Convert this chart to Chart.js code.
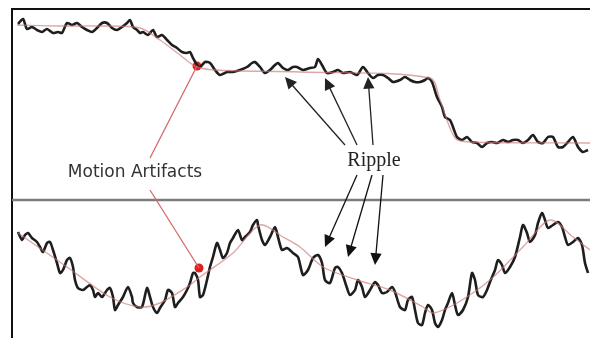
<!DOCTYPE html>
<html>
<head>
<meta charset="utf-8">
<script src="https://cdn.jsdelivr.net/npm/chart.js@4"></script>
<style>
  html, body { margin: 0; padding: 0; background: #fff; }
  #wrap { position: relative; width: 590px; height: 338px; }
</style>
</head>
<body>
<div id="wrap"><canvas id="sig" width="590" height="338"></canvas></div>
<script>
// upper trace: raw signal with two level drops
const topX = [18,23,27,32,37,42,47,53,58,62,67,72,77,82,87,92,97,102,107,112,117,122,127,130,133,137,140,143,148,153,157,162,167,172,177,182,187,190,193,197,200,205,210,215,220,227,233,240,247,252,255,260,265,270,275,278,283,288,293,297,303,310,315,318,322,327,333,338,343,350,357,363,368,373,378,383,388,393,400,405,410,415,420,425,428,432,437,442,445,450,453,457,462,467,472,477,482,487,492,497,503,508,513,518,523,528,533,538,543,548,553,558,563,568,573,578,583,588];
const topY = [24,19,29,27,30,32,29,33,32,33,23,25,23,27,30,32,28,23,23,28,30,27,23,20,27,30,33,32,35,30,37,35,40,45,48,52,53,52,58,65,67,62,63,70,75,72,72,70,67,63,62,67,73,70,65,63,68,70,67,67,70,68,67,59,65,73,72,70,73,72,75,67,73,78,75,75,78,82,80,77,80,82,82,80,78,82,97,107,117,120,127,137,140,137,142,143,147,143,142,143,140,142,140,140,143,140,135,142,143,137,137,147,147,142,137,147,152,150];
// upper trend
const topTrendX = [17,60,100,140,160,180,195,215,300,430,440,455,470,590];
const topTrendY = [25,26,26,28,40,55,66,70,72,78,100,138,142,143];

// lower trace: raw signal riding on a slow wave
const botX = [18,22,25,28,32,37,40,43,47,50,53,57,60,63,67,70,73,75,78,83,87,90,93,95,98,102,107,110,113,115,118,123,128,132,133,137,142,147,150,153,157,160,165,168,172,175,178,183,187,190,193,195,198,200,203,207,210,213,217,220,223,227,230,233,238,242,245,250,253,257,258,262,265,270,275,278,282,287,293,298,303,308,313,318,322,325,330,335,338,342,347,350,355,358,362,365,370,375,378,382,387,392,395,400,405,408,412,415,418,422,425,428,432,435,438,442,445,448,452,455,458,463,468,472,475,478,483,487,490,495,498,502,505,510,515,520,523,527,530,535,538,542,545,548,553,558,562,565,568,573,578,582,585,588];
const botY = [232,240,235,233,238,242,247,252,243,242,250,263,273,270,260,258,267,280,288,290,287,285,290,297,293,297,290,288,297,310,305,297,287,297,303,307,307,288,297,307,313,308,300,290,293,307,303,297,290,283,273,273,280,297,295,280,267,257,243,250,258,253,243,238,230,240,237,232,225,220,225,240,245,237,227,237,250,248,253,257,275,270,258,255,263,280,283,268,267,273,288,295,290,280,287,297,290,282,285,293,292,287,292,307,310,300,297,310,323,325,313,305,310,323,327,320,310,303,293,305,315,310,297,273,280,295,297,290,282,270,260,265,273,267,257,237,225,233,242,235,223,213,220,228,225,222,227,237,245,242,238,245,263,273];
// lower trend
const botTrendX = [18,67,110,140,160,187,200,233,260,283,300,323,357,390,423,433,457,490,523,550,573,590];
const botTrendY = [233,267,297,307,303,287,277,253,225,237,247,267,280,290,307,313,303,280,247,220,237,250];

// annotation anchors
const redDotX = [197, 199];
const redDotY = [66, 268];
const ripplesUpX = [285, 325, 368];
const ripplesUpY = [77, 78, 77];
const ripplesDownX = [325, 348, 375];
const ripplesDownY = [247, 257, 265];

const zip = (xs, ys) => xs.map((x, i) => ({x: x, y: ys[i]}));

function arrow(ctx, x0, y0, x1, y1, color, head) {
    const a = Math.atan2(y1 - y0, x1 - x0);
    ctx.strokeStyle = color;
    ctx.fillStyle = color;
    ctx.beginPath();
    ctx.moveTo(x0, y0);
    ctx.lineTo(x1 - Math.cos(a) * head * 0.8, y1 - Math.sin(a) * head * 0.8);
    ctx.stroke();
    if (!head) return;
    ctx.beginPath();
    ctx.moveTo(x1, y1);
    ctx.lineTo(x1 - head * Math.cos(a - 0.45), y1 - head * Math.sin(a - 0.45));
    ctx.lineTo(x1 - head * Math.cos(a + 0.45), y1 - head * Math.sin(a + 0.45));
    ctx.closePath();
    ctx.fill();
}

const frame = {
    id: 'frame',
    beforeDatasetsDraw(chart) {
        const {ctx, scales: {x, y}} = chart;
        ctx.save();
        // outer frame: left and top edges
        ctx.strokeStyle = '#111';
        ctx.lineWidth = 2;
        ctx.beginPath();
        ctx.moveTo(x.getPixelForValue(12), y.getPixelForValue(338));
        ctx.lineTo(x.getPixelForValue(12), y.getPixelForValue(9));
        ctx.lineTo(x.getPixelForValue(590), y.getPixelForValue(9));
        ctx.stroke();
        // panel divider
        ctx.strokeStyle = '#7c7c7c';
        ctx.lineWidth = 2.5;
        ctx.beginPath();
        ctx.moveTo(x.getPixelForValue(12), y.getPixelForValue(200));
        ctx.lineTo(x.getPixelForValue(590), y.getPixelForValue(200));
        ctx.stroke();
        ctx.restore();
    },
    afterDatasetsDraw(chart) {
        const {ctx, scales: {x, y}} = chart;
        ctx.save();
        ctx.lineWidth = 1.3;
        // motion artifacts
        arrow(ctx, x.getPixelForValue(150), y.getPixelForValue(158), x.getPixelForValue(redDotX[0]), y.getPixelForValue(redDotY[0]), '#d46a6a', 0);
        arrow(ctx, x.getPixelForValue(150), y.getPixelForValue(190), x.getPixelForValue(redDotX[1]), y.getPixelForValue(redDotY[1]), '#d46a6a', 0);
        ctx.fillStyle = '#333';
        ctx.font = '17px "DejaVu Sans"';
        ctx.textAlign = 'center';
        ctx.textBaseline = 'middle';
        ctx.fillText('Motion Artifacts', x.getPixelForValue(135), y.getPixelForValue(173));
        // ripple
        ctx.lineWidth = 1.3;
        const upTails = [345, 357, 373];
        const downTails = [357, 372, 383];
        ripplesUpX.forEach((px, i) => arrow(ctx, x.getPixelForValue(upTails[i]), y.getPixelForValue(145), x.getPixelForValue(px), y.getPixelForValue(ripplesUpY[i]), '#222', 13));
        ripplesDownX.forEach((px, i) => arrow(ctx, x.getPixelForValue(downTails[i]), y.getPixelForValue(175), x.getPixelForValue(px), y.getPixelForValue(ripplesDownY[i]), '#111', 13));
        ctx.fillStyle = '#222';
        ctx.font = '20px "Liberation Serif"';
        ctx.fillText('Ripple', x.getPixelForValue(374), y.getPixelForValue(161));
        ctx.restore();
    }
};

const trend = {borderColor: 'rgba(200,120,120,0.65)', borderWidth: 1.4, pointRadius: 0, tension: 0.3, fill: false};
const raw = {borderColor: '#1e1e1e', borderWidth: 2.6, pointRadius: 0, tension: 0.25, fill: false};

new Chart(document.getElementById('sig'), {
    type: 'line',
    data: {
        datasets: [
            Object.assign({label: 'upper trend', data: zip(topTrendX, topTrendY)}, trend),
            Object.assign({label: 'lower trend', data: zip(botTrendX, botTrendY)}, trend),
            Object.assign({label: 'upper', data: zip(topX, topY)}, raw),
            Object.assign({label: 'lower', data: zip(botX, botY)}, raw),
            {
                label: 'artifacts',
                type: 'scatter',
                data: zip(redDotX, redDotY),
                pointRadius: 4.5,
                pointBackgroundColor: '#e0201c',
                pointBorderWidth: 0
            }
        ]
    },
    options: {
        responsive: false,
        animation: false,
        layout: {padding: 0, autoPadding: false},
        plugins: {legend: {display: false}, tooltip: {enabled: false}},
        scales: {
            x: {type: 'linear', min: 0, max: 590, display: false},
            y: {type: 'linear', min: 0, max: 338, reverse: true, display: false}
        }
    },
    plugins: [frame]
});
</script>
</body>
</html>
